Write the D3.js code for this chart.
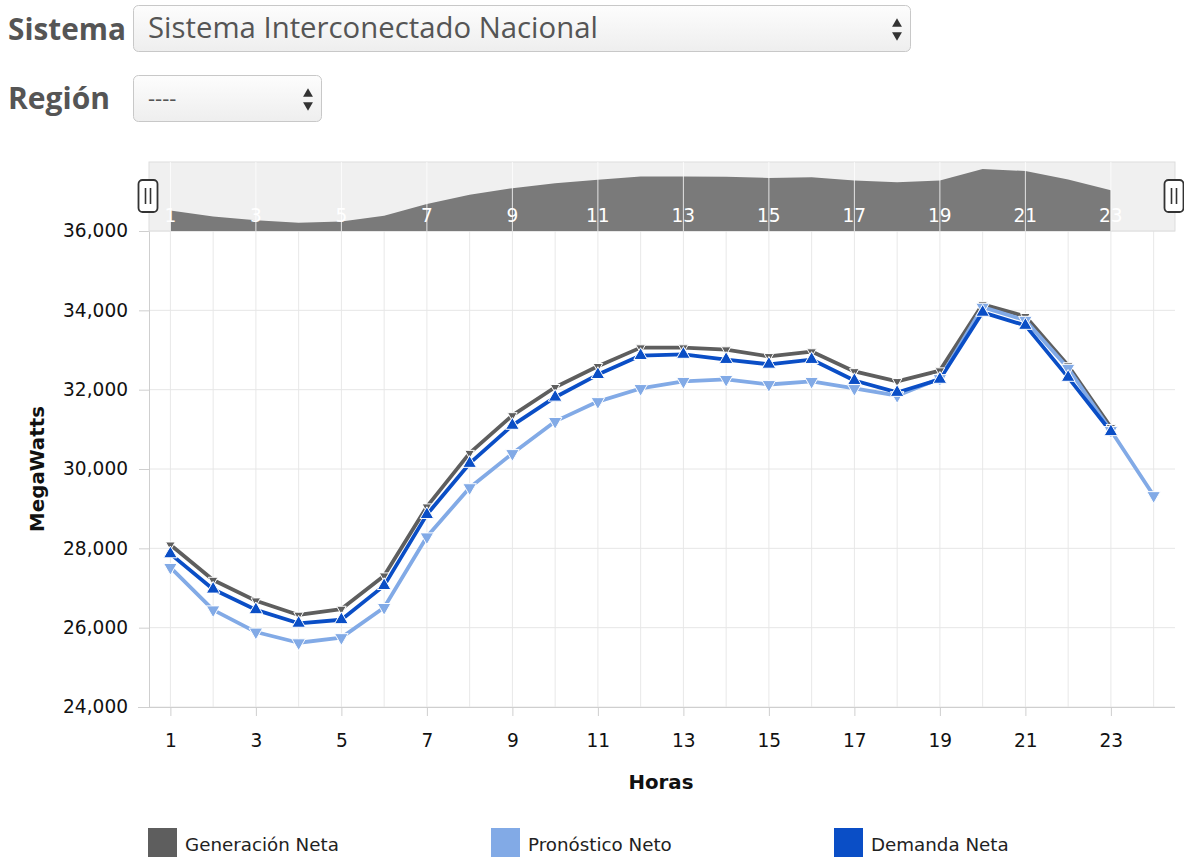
<!DOCTYPE html>
<html><head><meta charset="utf-8">
<script src="https://cdn.jsdelivr.net/npm/d3@7"></script>
<style>
html,body{margin:0;padding:0;background:#fff;}
svg{display:block;}
</style></head>
<body>
<svg id="c" width="1184" height="857"></svg>
<script>
const hours = d3.range(1, 25);
const xTickLabels = [1,3,5,7,9,11,13,15,17,19,21,23];
const yTickLabels = [24000,26000,28000,30000,32000,34000,36000];
const seriesNames = ["Generación Neta", "Pronóstico Neto", "Demanda Neta"];
const generacion = [28090,27200,26680,26320,26470,27310,29050,30400,31350,32060,32590,33060,33060,33010,32840,32960,32460,32210,32480,34150,33850,32610,31050,null];
const pronostico = [27520,26450,25890,25620,25750,26510,28290,29530,30390,31200,31700,32030,32210,32260,32130,32210,32030,31850,32280,34080,33750,32540,30970,29330];
const demanda    = [27860,26970,26450,26110,26200,27060,28850,30140,31100,31810,32380,32860,32890,32760,32640,32760,32230,31930,32260,33950,33620,32310,30940,null];
const colors = ["#5e5e5e", "#82aae6", "#0a4ec6"];
const FONT = "DejaVu Sans, Verdana, sans-serif";

const svg = d3.select("#c");

function fitText(sel, target) {
  const w = sel.node().getComputedTextLength();
  const fs = parseFloat(sel.style("font-size"));
  const nfs = fs * target / w;
  sel.style("font-size", nfs + "px");
  return nfs;
}
function sizeFor(str, target, weight) {
  const t = svg.append("text").text(str).attr("font-family", FONT).style("font-family", FONT)
    .style("font-size", "20px").style("font-weight", weight || "normal");
  const w = t.node().getComputedTextLength();
  t.remove();
  return 20 * target / w;
}
const tickFS = sizeFor("36,000", 65);
const legFS = sizeFor("Generación Neta", 154);

const defs = svg.append("defs");
const grad = defs.append("linearGradient").attr("id","selg").attr("x1",0).attr("y1",0).attr("x2",0).attr("y2",1);
grad.append("stop").attr("offset","0%").attr("stop-color","#fdfdfd");
grad.append("stop").attr("offset","100%").attr("stop-color","#eeeeee");

// ---------- top form controls ----------
const lab1 = svg.append("text").attr("x",8).attr("y",40).text("Sistema")
  .style("font-family","'Open Sans'").style("font-weight",700).style("font-size","30px").style("fill","#555");
fitText(lab1, 118);
const lab2 = svg.append("text").attr("x",8).attr("y",109).text("Región")
  .style("font-family","'Open Sans'").style("font-weight",700).style("font-size","30px").style("fill","#555");
fitText(lab2, 102);

svg.append("rect").attr("x",133.5).attr("y",5.5).attr("width",777).attr("height",46).attr("rx",5)
  .attr("fill","url(#selg)").attr("stroke","#c8c8c8");
const st = svg.append("text").attr("x",148).attr("y",38).text("Sistema Interconectado Nacional")
  .style("font-family","'Open Sans'").style("font-size","26px").style("fill","#555");
fitText(st, 450);
svg.append("rect").attr("x",133.5).attr("y",75.5).attr("width",188).attr("height",46).attr("rx",5)
  .attr("fill","url(#selg)").attr("stroke","#c8c8c8");
svg.append("text").attr("x",148).attr("y",106).text("----")
  .style("font-family","'Open Sans'").style("font-size","22px").style("fill","#555");
function arrows(cx, cy) {
  const s = d3.symbol().type(d3.symbolTriangle).size(42);
  svg.append("path").attr("d", s()).attr("transform",`translate(${cx},${cy-5})`).attr("fill","#333");
  svg.append("path").attr("d", s()).attr("transform",`translate(${cx},${cy+6}) rotate(180)`).attr("fill","#333");
}
arrows(897, 29);
arrows(308, 99);

// ---------- chart ----------
const pLeft = 149, pRight = 1175, pTop = 231, pBottom = 707;
const x = d3.scaleLinear().domain([0.5, 24.5]).range([pLeft, pRight]);
const y = d3.scaleLinear().domain([24000, 36000]).range([pBottom, pTop]);

const g = svg.append("g");
g.selectAll(".vg").data(hours).join("line")
  .attr("x1", d => x(d)).attr("x2", d => x(d)).attr("y1", pTop).attr("y2", pBottom)
  .attr("stroke", "#e8e8e8").attr("stroke-width", 1);
g.selectAll(".hg").data(yTickLabels).join("line")
  .attr("x1", pLeft).attr("x2", pRight).attr("y1", d => y(d)).attr("y2", d => y(d))
  .attr("stroke", "#e6e6e6").attr("stroke-width", 1);

const yAxis = g.append("g").attr("transform", `translate(${pLeft},0)`)
  .call(d3.axisLeft(y).tickValues(yTickLabels).tickFormat(d3.format(",")).tickSize(10).tickPadding(11));
yAxis.select(".domain").attr("stroke", "#cfcfcf");
yAxis.selectAll(".tick line").attr("stroke", "#cfcfcf");
yAxis.selectAll("text").attr("font-family", FONT).style("font-family", FONT).style("font-size", tickFS + "px").style("fill","#111");

const xAxis = g.append("g").attr("transform", `translate(0,${pBottom})`)
  .call(d3.axisBottom(x).tickValues(xTickLabels).tickFormat(d3.format("d")).tickSize(9).tickPadding(18).tickSizeOuter(0));
xAxis.select(".domain").attr("d", `M${pLeft-11},0.5H${pRight}`).attr("stroke", "#cfcfcf");
xAxis.selectAll(".tick line").attr("stroke", "#cfcfcf");
xAxis.selectAll("text").attr("font-family", FONT).style("font-family", FONT).style("font-size", tickFS + "px").style("fill","#111");

const yt = svg.append("text").attr("transform","translate(44,469) rotate(-90)").attr("text-anchor","middle")
  .text("MegaWatts").attr("font-family", FONT).style("font-family", FONT).style("font-weight","bold").style("font-size","20px").style("fill","#111");
fitText(yt, 126);
const xt = svg.append("text").attr("x",661).attr("y",789).attr("text-anchor","middle")
  .text("Horas").attr("font-family", FONT).style("font-family", FONT).style("font-weight","bold").style("font-size","20px").style("fill","#111");
fitText(xt, 65);

// series
const allSeries = [generacion, pronostico, demanda];
const line = d3.line().defined(d => d != null).x((d, i) => x(hours[i])).y(d => y(d));
const markerSizes = [40, 80, 80];
const markerRot = [180, 180, 0];
allSeries.forEach((data, si) => {
  g.append("path").datum(data).attr("d", line).attr("fill", "none")
    .attr("stroke", colors[si]).attr("stroke-width", 3.8).attr("stroke-linejoin","round");
});
allSeries.forEach((data, si) => {
  const sym = d3.symbol().type(d3.symbolTriangle).size(markerSizes[si]);
  g.selectAll(null).data(data.map((v, i) => ({v, h: hours[i]})).filter(d => d.v != null)).join("path")
    .attr("d", sym())
    .attr("transform", d => `translate(${x(d.h)},${y(d.v)}) rotate(${markerRot[si]})`)
    .attr("fill", colors[si]).attr("stroke", "#fff").attr("stroke-width", 1);
});

// ---------- navigator ----------
const navTop = 162, navBottom = 231;
const ny = d3.scaleLinear().domain([25100, 35170]).range([navBottom, navTop]);
const nav = svg.append("g");
nav.append("rect").attr("x", pLeft).attr("y", navTop).attr("width", pRight - pLeft).attr("height", navBottom - navTop)
  .attr("fill", "#f0f0f0").attr("stroke", "#dddddd");
const area = d3.area().defined(d => d != null).x((d, i) => x(hours[i])).y0(navBottom).y1(d => ny(d));
nav.append("path").datum(generacion).attr("d", area).attr("fill", "#7a7a7a");
nav.selectAll(".nl").data(xTickLabels).join("line")
  .attr("x1", d => x(d)).attr("x2", d => x(d)).attr("y1", navTop).attr("y2", navBottom)
  .attr("stroke", "#ffffff").attr("stroke-width", 1).attr("opacity", 0.8);
nav.selectAll(".nt").data(xTickLabels).join("text")
  .attr("x", d => x(d)).attr("y", 222).attr("text-anchor", "middle").text(d => d)
  .attr("font-family", FONT).style("font-family", FONT).style("font-size", tickFS + "px").style("fill","#fff");
[pLeft - 1, pRight - 1].forEach(cx => {
  nav.append("rect").attr("x", cx - 9.5).attr("y", 180).attr("width", 19).attr("height", 32).attr("rx", 4)
    .attr("fill", "#fff").attr("stroke", "#333").attr("stroke-width", 1.8);
  [-2.5, 2.5].forEach(dx => nav.append("line").attr("x1", cx + dx).attr("x2", cx + dx).attr("y1", 188).attr("y2", 204)
    .attr("stroke", "#333").attr("stroke-width", 1.6));
});

// ---------- legend ----------
const legX = [148, 491, 834];
const leg = svg.append("g");
seriesNames.forEach((n, i) => {
  leg.append("rect").attr("x", legX[i]).attr("y", 828).attr("width", 29).attr("height", 29).attr("fill", colors[i]);
  leg.append("text").attr("x", legX[i] + 37).attr("y", 851).text(n)
    .attr("font-family", FONT).style("font-family", FONT).style("font-size", legFS + "px").style("fill","#222");
});
</script>
</body></html>
